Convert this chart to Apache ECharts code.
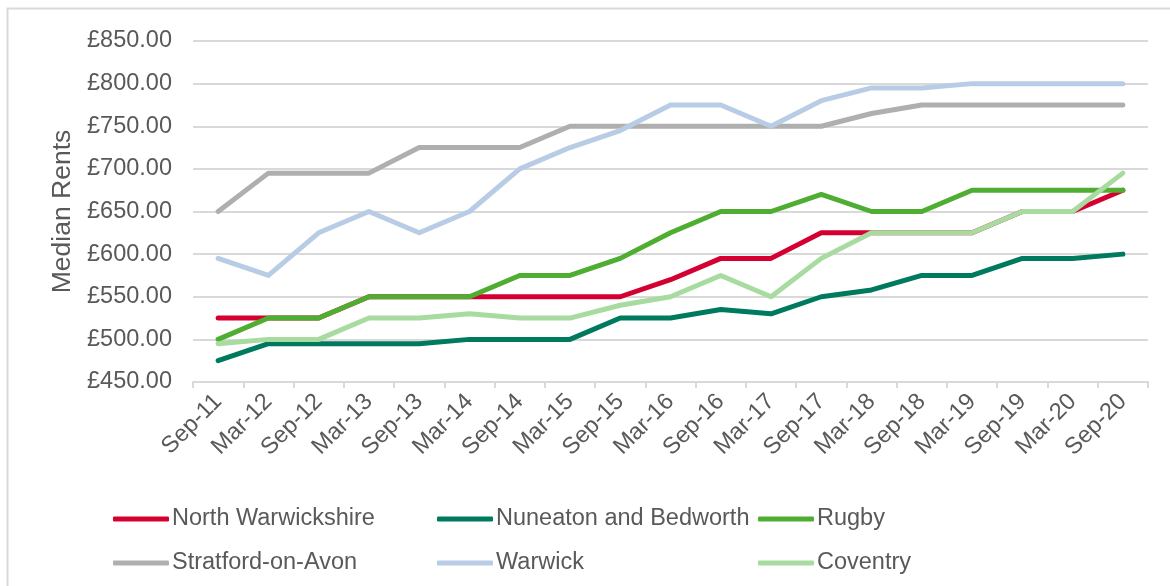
<!DOCTYPE html>
<html>
<head>
<meta charset="utf-8">
<script src="https://cdn.jsdelivr.net/npm/echarts@6/dist/echarts.min.js"></script>
<style>
html,body{margin:0;padding:0;background:#fff;}
#chart{width:1170px;height:586px;}
</style>
</head>
<body>
<div id="chart"></div>
<script>
const categories = ['Sep-11','Mar-12','Sep-12','Mar-13','Sep-13','Mar-14','Sep-14','Mar-15','Sep-15','Mar-16','Sep-16','Mar-17','Sep-17','Mar-18','Sep-18','Mar-19','Sep-19','Mar-20','Sep-20'];
const northWarwickshire = [525,525,525,550,550,550,550,550,550,570,595,595,625,625,625,625,650,650,675];
const nuneatonBedworth  = [475,495,495,495,495,500,500,500,525,525,535,530,550,558,575,575,595,595,600];
const rugby             = [500,525,525,550,550,550,575,575,595,625,650,650,670,650,650,675,675,675,675];
const stratford         = [650,695,695,695,725,725,725,750,750,750,750,750,750,765,775,775,775,775,775];
const warwick           = [595,575,625,650,625,650,700,725,745,775,775,750,780,795,795,800,800,800,800];
const coventry          = [495,500,500,525,525,530,525,525,540,550,575,550,595,625,625,625,650,650,695];
const yTicks = {min:450, max:850, interval:50};

const seriesDefs = [
  ['North Warwickshire', northWarwickshire, '#D50032'],
  ['Nuneaton and Bedworth', nuneatonBedworth, '#007A5E'],
  ['Rugby', rugby, '#4FAE32'],
  ['Stratford-on-Avon', stratford, '#AFAFAF'],
  ['Warwick', warwick, '#B8CDE5'],
  ['Coventry', coventry, '#A8DBA0']
];
const textColor = '#595959';
const fs = 23.5;
const chart = echarts.init(document.getElementById('chart'));
const legendBase = {
  orient:'vertical', top:507, padding:0, itemGap:20,
  itemWidth:56, itemHeight:5, icon:'roundRect',
  textStyle:{color:textColor, fontSize:fs, fontFamily:'Liberation Sans, Arial, sans-serif', lineHeight:24, padding:[0,0,0,-2]}
};
chart.setOption({
  animation:false,
  textStyle:{fontFamily:'Liberation Sans, Arial, sans-serif'},
  graphic:[{type:'rect', shape:{x:7.5,y:8.5,width:1200,height:620}, style:{fill:'none', stroke:'#D9D9D9', lineWidth:2}, silent:true}],
  grid:{left:193, right:22, top:41, bottom:204, containLabel:false},
  legend:[
    Object.assign({}, legendBase, {left:113, data:[seriesDefs[0][0], seriesDefs[3][0]]}),
    Object.assign({}, legendBase, {left:437, data:[seriesDefs[1][0], seriesDefs[4][0]]}),
    Object.assign({}, legendBase, {left:758, data:[seriesDefs[2][0], seriesDefs[5][0]]})
  ],
  xAxis:{
    type:'category', data:categories, boundaryGap:true,
    axisLine:{lineStyle:{color:'#D9D9D9', width:2}},
    axisTick:{show:true, length:6, lineStyle:{color:'#D9D9D9', width:2}},
    axisLabel:{rotate:45, color:textColor, fontSize:fs, margin:16, interval:0}
  },
  yAxis:{
    type:'value', min:yTicks.min, max:yTicks.max, interval:yTicks.interval,
    name:'Median Rents', nameLocation:'middle', nameGap:117,
    nameTextStyle:{color:textColor, fontSize:26.5},
    axisLine:{show:false}, axisTick:{show:false},
    axisLabel:{color:textColor, fontSize:fs, margin:21, formatter:v=>'£'+v.toFixed(2)},
    splitLine:{lineStyle:{color:'#D9D9D9', width:2}}
  },
  series: seriesDefs.map(([name,data,color])=>({
    name, type:'line', data, symbol:'none', color,
    lineStyle:{color, width:5, cap:'round', join:'round'}
  }))
});
</script>
</body>
</html>
